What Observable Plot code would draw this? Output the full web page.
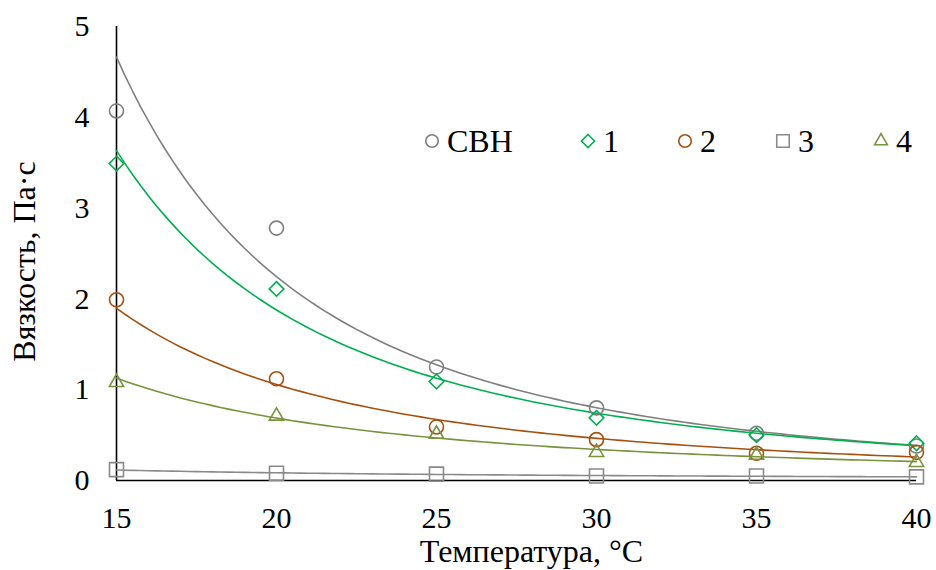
<!DOCTYPE html>
<html><head><meta charset="utf-8">
<script src="https://cdn.jsdelivr.net/npm/d3@7"></script>
<script src="https://cdn.jsdelivr.net/npm/@observablehq/plot@0.6"></script>
<style>
body{margin:0;background:#fff;font-family:'Liberation Serif';}
#wrap{position:relative;width:936px;height:570px;overflow:hidden;font-family:'Liberation Serif'}
.leg{position:absolute;height:38px;font-size:32px;line-height:38px;display:flex;align-items:center;color:#000;white-space:nowrap;font-family:'Liberation Serif'}
.leg svg{display:block;margin-right:6px}
</style></head><body><div id="wrap"></div>
<script>
// ---- data ----
const temperatures = [15, 20, 25, 30, 35, 40];
const seriesNames = ["СВН", "1", "2", "3", "4"];
const valuesSVN = [4.07, 2.78, 1.25, 0.80, 0.52, 0.38];
const values1   = [3.49, 2.11, 1.09, 0.69, 0.50, 0.41];
const values2   = [1.99, 1.12, 0.59, 0.45, 0.30, 0.31];
const values3   = [0.12, 0.08, 0.07, 0.05, 0.05, 0.04];
const values4   = [1.08, 0.71, 0.51, 0.31, 0.28, 0.20];
const xTicks = [15, 20, 25, 30, 35, 40];
const yTicks = [0, 1, 2, 3, 4, 5];
const xLabel = "Температура, °С";
const yLabel = "Вязкость, Па·с";

// ---- styles ----
const fontName = "Liberation Serif";
const colors  = ["#7f7f7f", "#00b050", "#a5500f", "#8a8a8a", "#77933c"];
const symbols = ["circle", "diamond2", "circle", "square2", "triangle2"];
const radii   = [7, 6.6, 7, 8.9, 6.8];
const legendX = [432, 588, 685, 783, 881];
const legendTop = 122;

const allValues = [valuesSVN, values1, values2, values3, values4];
const points = [];
seriesNames.forEach((s, k) => temperatures.forEach((t, i) => points.push({series: s, k, t, v: allValues[k][i]})));

// power-law trend lines (least squares on log-log, like a spreadsheet "power" trendline)
function powerFit(xs, ys) {
  const lx = xs.map(Math.log), ly = ys.map(Math.log);
  const mx = d3.mean(lx), my = d3.mean(ly);
  const b = d3.sum(lx, (d, i) => (d - mx) * (ly[i] - my)) / d3.sum(lx, d => (d - mx) ** 2);
  const a = Math.exp(my - b * mx);
  return x => a * Math.pow(x, b);
}
const xFine = d3.range(temperatures[0], temperatures[temperatures.length - 1] + 1e-9, 0.25);
const trends = [];
seriesNames.forEach((s, k) => {
  const f = powerFit(temperatures, allValues[k]);
  xFine.forEach(x => trends.push({series: s, k, t: x, v: f(x)}));
});

const marks = [
  Plot.ruleX([temperatures[0]], {stroke: "#000", strokeWidth: 1.6}),
  Plot.ruleY([0], {stroke: "#000", strokeWidth: 1.6}),
  Plot.axisX(xTicks, {tickSize: 0, tickPadding: 26, fontSize: 30, fontFamily: fontName, tickFormat: d3.format("d"), label: null}),
  Plot.axisY(yTicks, {tickSize: 0, tickPadding: 27, fontSize: 30, fontFamily: fontName, tickFormat: d3.format("d"), label: null}),
  Plot.text([xLabel], {text: d => d, frameAnchor: "bottom", textAnchor: "middle", lineAnchor: "middle", dx: 15, dy: 71, fontSize: 32, fontFamily: fontName}),
  Plot.text([yLabel], {text: d => d, frameAnchor: "left", textAnchor: "middle", lineAnchor: "middle", rotate: -90, dx: -92, dy: 8, fontSize: 32, fontFamily: fontName})
];
seriesNames.forEach((s, k) => {
  marks.push(Plot.line(trends.filter(d => d.k === k), {x: "t", y: "v", stroke: colors[k], strokeWidth: 1.6}));
});
seriesNames.forEach((s, k) => {
  marks.push(Plot.dot(points.filter(d => d.k === k), {x: "t", y: "v", symbol: symbols[k], stroke: colors[k], fill: "none", r: radii[k], strokeWidth: 1.6}));
});

const chart = Plot.plot({
  width: 936, height: 570,
  marginLeft: 116, marginRight: 20, marginTop: 26, marginBottom: 90,
  x: {domain: [15, 40]},
  y: {domain: [0, 5]},
  style: {fontFamily: fontName, fontSize: "30px", color: "#000", background: "#fff"},
  marks
});
const wrap = document.getElementById("wrap");
wrap.appendChild(chart);

// legend overlay
const symTypes = {circle: d3.symbolCircle, diamond2: d3.symbolDiamond2, square2: d3.symbolSquare2, triangle2: d3.symbolTriangle2};
seriesNames.forEach((s, k) => {
  const div = document.createElement("div");
  div.className = "leg";
  div.style.left = (legendX[k] - 9) + "px";
  div.style.top = legendTop + "px";
  const path = d3.symbol(symTypes[symbols[k]], Math.PI * radii[k] * radii[k] * 0.8)();
  div.innerHTML = `<svg width="18" height="18" viewBox="-9 -9 18 18"><path d="${path}" fill="none" stroke="${colors[k]}" stroke-width="1.6"/></svg><span>${s}</span>`;
  wrap.appendChild(div);
});
</script></body></html>
